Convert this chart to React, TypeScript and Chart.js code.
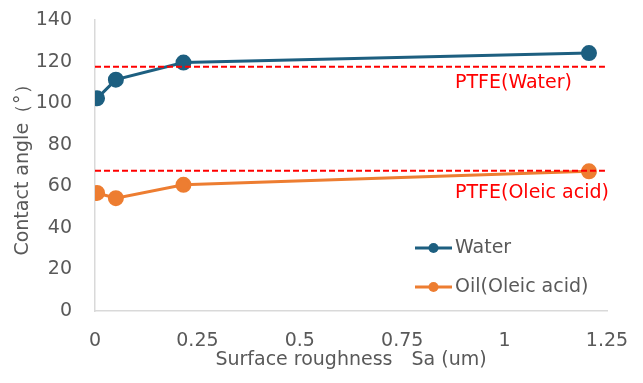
import React, { useEffect, useRef } from "react";
import { Chart, registerables } from "chart.js";
Chart.register(...registerables);

const roughness = [0.005, 0.051, 0.216, 1.206];
const water = [102.3, 111.3, 119.5, 124.1];
const oil = [56.8, 54.3, 60.7, 67.2];
const ptfeWater = 117.5;
const ptfeOil = 67.5;
const refXRange = [0, 1.245];
const xTicks = [0, 0.25, 0.5, 0.75, 1, 1.25];
const seriesNames = ["Water", "Oil(Oleic acid)"];
const refNames = ["PTFE(Water)", "PTFE(Oleic acid)"];

const FONT = "'DejaVu Sans', Verdana, sans-serif";
const GRAY = "#595959";
const BLUE = "#1D5F80";
const ORANGE = "#ED7D31";
const RED = "#FF0000";
const FS = 19;

export default function App() {
  const ref = useRef<HTMLCanvasElement | null>(null);
  useEffect(() => {
    document.body.style.margin = "0";
    const ctx = ref.current!;
    const overlay = {
      id: "overlay",
      afterDatasetsDraw(chart: any) {
        const c = chart.ctx;
        const ys = chart.scales.y;
        c.save();
        c.font = `${FS}px ${FONT}`;
        c.fillStyle = RED;
        c.textAlign = "left";
        c.textBaseline = "middle";
        c.fillText(refNames[0], 455, ys.getPixelForValue(ptfeWater) + 16);
        c.fillText(refNames[1], 455, ys.getPixelForValue(ptfeOil) + 22);
        const cols = [BLUE, ORANGE];
        const ly = [248, 287];
        for (let i = 0; i < 2; i++) {
          c.strokeStyle = cols[i];
          c.lineWidth = 3;
          c.beginPath();
          c.moveTo(415, ly[i]);
          c.lineTo(452, ly[i]);
          c.stroke();
          c.fillStyle = cols[i];
          c.beginPath();
          c.arc(433.5, ly[i], 5, 0, Math.PI * 2);
          c.fill();
          c.fillStyle = GRAY;
          c.fillText(seriesNames[i], 455, ly[i]);
        }
        c.restore();
      },
    };
    const chart = new Chart(ctx, {
      type: "line",
      data: {
        datasets: [
          {
            label: refNames[0],
            data: refXRange.map((x) => ({ x, y: ptfeWater })),
            borderColor: RED,
            borderWidth: 2,
            borderDash: [6, 3],
            pointRadius: 0,
          },
          {
            label: refNames[1],
            data: refXRange.map((x) => ({ x, y: ptfeOil })),
            borderColor: RED,
            borderWidth: 2,
            borderDash: [6, 3],
            pointRadius: 0,
          },
          {
            label: seriesNames[1],
            data: roughness.map((x, i) => ({ x, y: oil[i] })),
            borderColor: ORANGE,
            backgroundColor: ORANGE,
            borderWidth: 3,
            pointRadius: 6.5,
          },
          {
            label: seriesNames[0],
            data: roughness.map((x, i) => ({ x, y: water[i] })),
            borderColor: BLUE,
            backgroundColor: BLUE,
            borderWidth: 3,
            pointRadius: 6.5,
          },
        ],
      },
      options: {
        animation: false,
        responsive: false,
        layout: { padding: { top: 20, right: 36, left: 12, bottom: 0 } },
        plugins: { legend: { display: false }, tooltip: { enabled: false } },
        scales: {
          x: {
            type: "linear",
            min: 0,
            max: 1.25,
            afterBuildTicks: (s: any) => {
              s.ticks = xTicks.map((v) => ({ value: v }));
            },
            afterFit: (s: any) => {
              s.height = 72;
              s.paddingLeft = 0;
              s.paddingRight = 0;
            },
            grid: { display: false, drawTicks: false },
            border: { color: "#D9D9D9", width: 1.5 },
            ticks: {
              color: GRAY,
              font: { family: FONT, size: FS },
              padding: 19,
              maxRotation: 0,
              callback: (v: any) => String(v),
            },
            title: {
              display: true,
              text: "Surface roughness　Sa (um)",
              color: GRAY,
              font: { family: FONT, size: FS },
              padding: { top: 0, bottom: 12 },
            },
          },
          y: {
            min: 0,
            max: 140,
            afterFit: (s: any) => {
              s.width = 83;
              s.paddingTop = 0;
              s.paddingBottom = 0;
            },
            grid: { display: false, drawTicks: false },
            border: { color: "#D9D9D9", width: 1.5 },
            ticks: {
              stepSize: 20,
              color: GRAY,
              font: { family: FONT, size: FS },
              padding: 23,
            },
            title: {
              display: true,
              text: "Contact angle（°）",
              color: GRAY,
              font: { family: FONT, size: FS },
              padding: { top: 0, bottom: 2 },
            },
          },
        },
      },
      plugins: [overlay],
    });
    return () => chart.destroy();
  }, []);
  return (
    <div style={{ width: 643, height: 383 }}>
      <canvas ref={ref} width={643} height={383} style={{ display: "block" }} />
    </div>
  );
}
